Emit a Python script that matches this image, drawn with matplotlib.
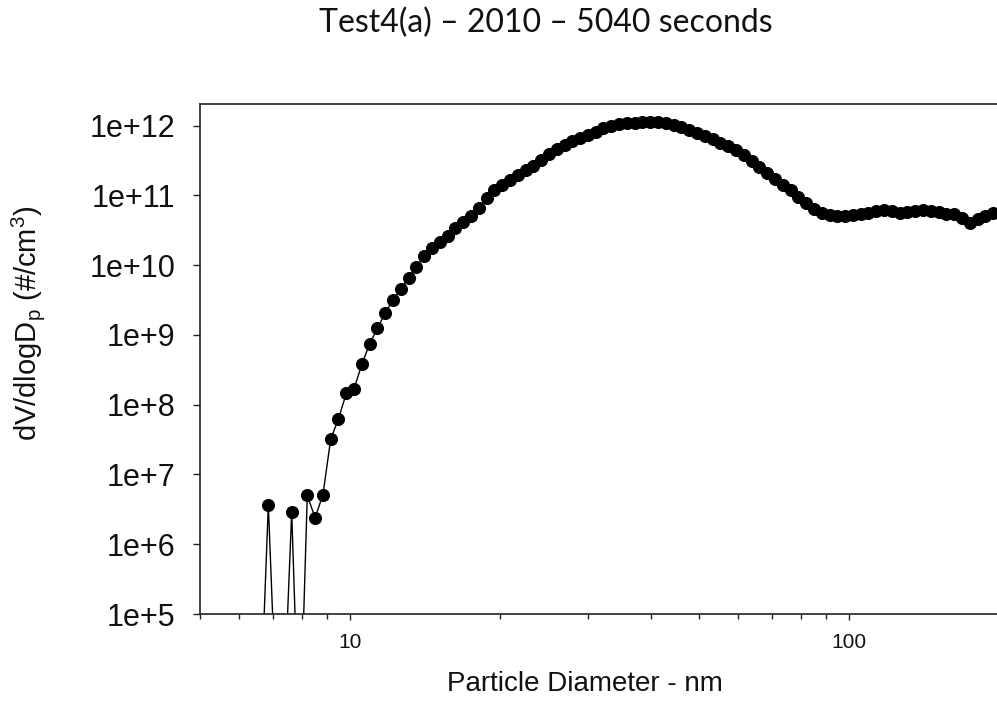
import numpy as np
import matplotlib
matplotlib.use("Agg")
import matplotlib.pyplot as plt
from matplotlib.ticker import FixedLocator, FixedFormatter, LogLocator, NullFormatter

# SMPS size bins: 64 channels per decade, bin midpoints at 10**((k + 0.5) / 64) nm
channel = np.arange(50, 147)
diameter_nm = 10 ** ((channel + 0.5) / 64)

# Volume size distribution dV/dlogDp for each channel (50 ... 146)
dv_dlogdp = [
    0, 0, 4e3, 3.7e6, 5e3, 5e3, 2.9e6, 1e3, 5.0e6, 2.4e6,
    5.1e6, 3.2e7, 6.3e7, 1.45e8, 1.7e8, 3.8e8, 7.5e8, 1.24e9, 2.1e9, 3.15e9,
    4.6e9, 6.6e9, 9.5e9, 1.35e10, 1.76e10, 2.14e10, 2.62e10, 3.41e10, 4.15e10, 5.06e10,
    6.60e10, 9.18e10, 1.20e11, 1.41e11, 1.66e11, 1.96e11, 2.31e11, 2.69e11, 3.22e11, 3.93e11,
    4.63e11, 5.29e11, 6.03e11, 6.66e11, 7.47e11, 8.26e11, 9.27e11, 1.007e12, 1.06e12, 1.09e12,
    1.11e12, 1.13e12, 1.14e12, 1.13e12, 1.09e12, 1.02e12, 9.58e11, 8.82e11, 7.99e11, 7.11e11,
    6.45e11, 5.74e11, 5.11e11, 4.48e11, 3.80e11, 3.12e11, 2.56e11, 2.10e11, 1.72e11, 1.41e11,
    1.20e11, 9.48e10, 7.78e10, 6.38e10, 5.59e10, 5.23e10, 5.06e10, 5.06e10, 5.23e10, 5.41e10,
    5.59e10, 5.97e10, 6.17e10, 5.97e10, 5.68e10, 5.78e10, 5.97e10, 6.28e10, 5.97e10, 5.78e10,
    5.50e10, 5.41e10, 4.74e10, 4.02e10, 4.58e10, 5.15e10, 5.59e10,
]

x_major = [10, 100]
x_major_labels = ["10", "100"]
y_major = [1e5, 1e6, 1e7, 1e8, 1e9, 1e10, 1e11, 1e12]
y_major_labels = ["1e+5", "1e+6", "1e+7", "1e+8", "1e+9", "1e+10", "1e+11", "1e+12"]

title = "Test4(a) \u2013 2010 \u2013 5040 seconds"
xlabel = "Particle Diameter - nm"
ylabel = r"dV/dlogD$_\mathregular{p}$ (#/cm$^\mathregular{3}$)"

plt.rcParams["font.family"] = ["Liberation Sans", "DejaVu Sans"]
plt.rcParams["mathtext.default"] = "regular"

text_color = "#111111"
axis_color = "#222222"

fig = plt.figure(figsize=(9.97, 7.02), dpi=100)
ax = fig.add_axes([200 / 997, 1 - 614 / 702, 797 / 997, 510 / 702])

ax.plot(diameter_nm, dv_dlogdp, color="black", lw=1.0, marker="o",
        markersize=8.6, markerfacecolor="black", markeredgecolor="black",
        markeredgewidth=0.8, clip_on=True)

ax.set_xscale("log")
ax.set_yscale("log")
ax.set_xlim(5.0, 198)
ax.set_ylim(1e5, 2.05e12)

ax.xaxis.set_major_locator(FixedLocator(x_major))
ax.xaxis.set_major_formatter(FixedFormatter(x_major_labels))
ax.xaxis.set_minor_locator(LogLocator(base=10, subs=np.arange(2, 10)))
ax.xaxis.set_minor_formatter(NullFormatter())
ax.yaxis.set_major_locator(FixedLocator(y_major))
ax.yaxis.set_major_formatter(FixedFormatter(y_major_labels))
ax.yaxis.set_minor_locator(FixedLocator([]))

ax.tick_params(axis="x", which="major", direction="out", length=4.5, width=1.0,
               pad=9, labelsize=15, colors=axis_color, labelcolor=text_color)
ax.tick_params(axis="x", which="minor", direction="out", length=3.5, width=1.0,
               colors=axis_color)
ax.tick_params(axis="y", which="major", direction="out", length=5, width=1.0,
               pad=13, labelsize=22, colors=axis_color, labelcolor=text_color)

for side in ("left", "top", "bottom"):
    ax.spines[side].set_color(axis_color)
    ax.spines[side].set_linewidth(1.2)
ax.spines["right"].set_visible(False)

ax.set_xlabel(xlabel, fontsize=20, color=text_color, va="center")
ax.xaxis.set_label_coords((584.5 - 200) / 797, (614 - 684) / 510)
ax.set_ylabel(ylabel, fontsize=21, color=text_color, va="center")
ax.yaxis.set_label_coords((28 - 200) / 797, (614 - 323) / 510)

fig.text(546 / 997, 1 - 23 / 702, title, ha="center", va="center",
         fontsize=23, color=text_color, family=["Lato", "DejaVu Sans"])

fig.savefig("out.png", dpi=100, facecolor="white")
